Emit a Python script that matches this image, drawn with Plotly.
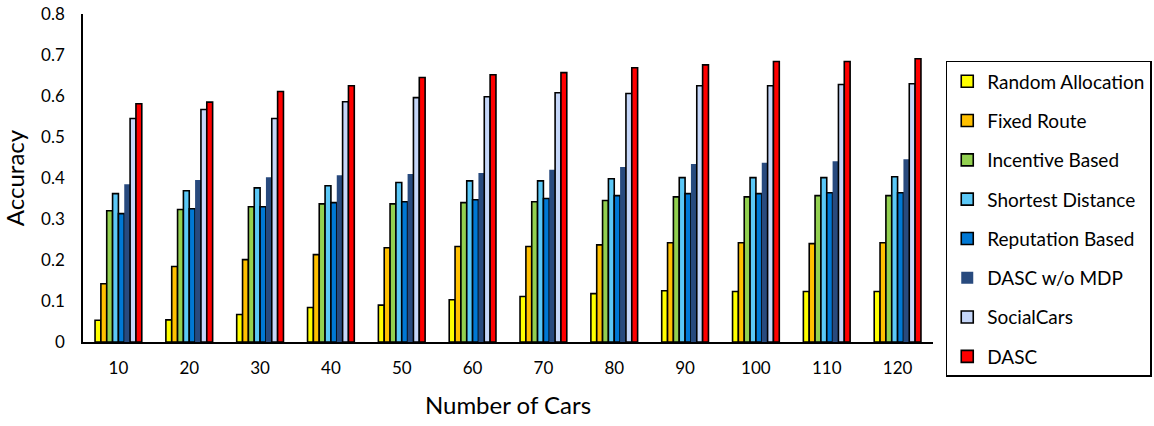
import plotly.graph_objects as go

cars = ["10", "20", "30", "40", "50", "60", "70", "80", "90", "100", "110", "120"]

random_allocation = [0.053, 0.054, 0.067, 0.084, 0.090, 0.103, 0.111, 0.118, 0.125, 0.123, 0.123, 0.123]
fixed_route = [0.142, 0.184, 0.201, 0.213, 0.230, 0.233, 0.233, 0.237, 0.242, 0.242, 0.240, 0.242]
incentive_based = [0.320, 0.323, 0.330, 0.337, 0.337, 0.340, 0.342, 0.345, 0.354, 0.354, 0.357, 0.357]
shortest_distance = [0.362, 0.369, 0.376, 0.381, 0.389, 0.393, 0.393, 0.398, 0.401, 0.401, 0.401, 0.403]
reputation_based = [0.313, 0.325, 0.330, 0.340, 0.342, 0.347, 0.350, 0.357, 0.362, 0.362, 0.364, 0.364]
dasc_wo_mdp = [0.385, 0.395, 0.402, 0.407, 0.410, 0.412, 0.420, 0.427, 0.434, 0.437, 0.441, 0.446]
socialcars = [0.545, 0.567, 0.545, 0.586, 0.596, 0.598, 0.608, 0.606, 0.625, 0.625, 0.628, 0.630]
dasc = [0.581, 0.585, 0.611, 0.625, 0.645, 0.652, 0.657, 0.669, 0.676, 0.684, 0.684, 0.691]

series = [
    ("Random Allocation", random_allocation, "#FFFF00", True),
    ("Fixed Route", fixed_route, "#FFC000", True),
    ("Incentive Based", incentive_based, "#92D050", True),
    ("Shortest Distance", shortest_distance, "#5BC8F7", True),
    ("Reputation Based", reputation_based, "#0078D4", True),
    ("DASC w/o MDP", dasc_wo_mdp, "#284A7E", False),
    ("SocialCars", socialcars, "#C5D6F8", True),
    ("DASC", dasc, "#FF0000", True),
]

FONT = "Lato"

fig = go.Figure()
for i, (name, vals, color, outlined) in enumerate(series):
    fig.add_trace(go.Bar(
        x=cars, y=vals, name=name, legendgroup=f"g{i}",
        marker=dict(color=color,
                    line=dict(color="black", width=1.6 if outlined else 0)),
    ))

fig.update_layout(
    width=1154, height=426,
    margin=dict(l=83, r=221, t=14, b=84, autoexpand=False),
    paper_bgcolor="white", plot_bgcolor="white",
    barmode="group", bargap=0.34, bargroupgap=0,
    font=dict(family=FONT, size=17, color="black"),
    showlegend=True,
    legend=dict(
        x=1.015, y=0.857, xanchor="left", yanchor="top",
        bordercolor="black", borderwidth=1.5,
        font=dict(family=FONT, size=19, color="black"),
        tracegroupgap=11.6, itemwidth=30,
    ),
    xaxis=dict(
        showline=True, linecolor="black", linewidth=1.5,
        ticks="", showgrid=False, automargin=False,
        ticklabelstandoff=10,
        title=dict(text="Number of Cars", font=dict(family=FONT, size=24), standoff=20),
        tickfont=dict(family=FONT, size=17),
    ),
    yaxis=dict(
        range=[0, 0.8], dtick=0.1, tickformat="~g",
        showline=True, linecolor="black", linewidth=1.5,
        ticks="", showgrid=False, zeroline=False, automargin=False,
        ticklabelstandoff=13, ticklabeloverflow="allow",
        title=dict(text="Accuracy", font=dict(family=FONT, size=24), standoff=26),
        tickfont=dict(family=FONT, size=17),
    ),
)

# remove the browser's default 8px body margin so the figure fills the window
fig.write_html("out.html", config={"displayModeBar": False},
               post_script="document.body.style.margin='0px';")
